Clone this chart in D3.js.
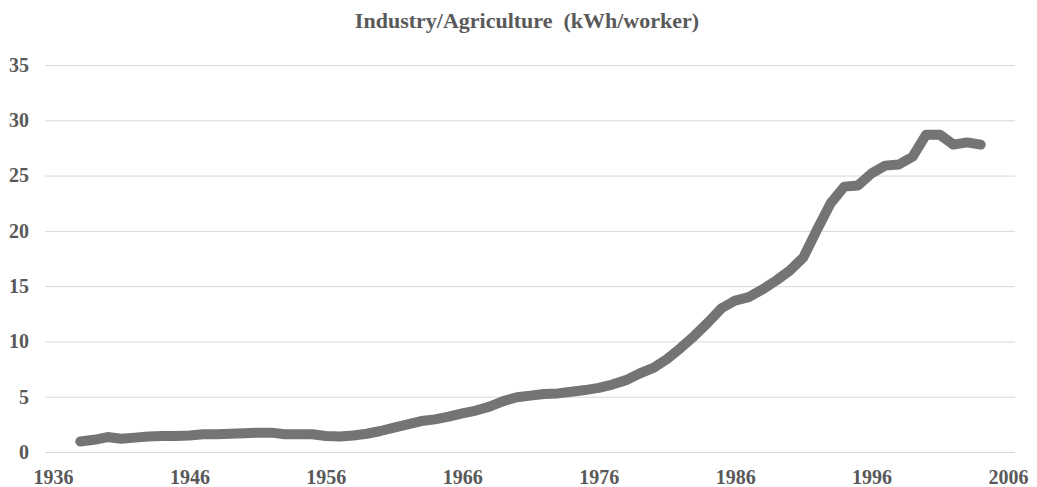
<!DOCTYPE html>
<html lang="en">
<head>
    <meta charset="utf-8">
    <script src="https://d3js.org/d3.v7.min.js"></script>
    <style>
        body { margin: 0; background: #fff; }
        text { font-family: "Liberation Serif", "Times New Roman", serif; }
    </style>
</head>
<body>

<div id="my_dataviz"></div>

<script>

const title = "Industry/Agriculture  (kWh/worker)";

const years = d3.range(1938, 2005);

const kwh = [
    0.95, 1.1, 1.35, 1.2, 1.3, 1.4, 1.45, 1.45, 1.5, 1.6,   // 1938-1947
    1.6, 1.65, 1.7, 1.75, 1.75, 1.6, 1.6, 1.6, 1.45, 1.4,    // 1948-1957
    1.5, 1.65, 1.9, 2.2, 2.5, 2.8, 2.95, 3.2, 3.5, 3.75,     // 1958-1967
    4.1, 4.6, 4.95, 5.1, 5.25, 5.3, 5.45, 5.6, 5.8, 6.1,     // 1968-1977
    6.5, 7.1, 7.6, 8.4, 9.4, 10.5, 11.7, 13.0, 13.7, 14.0,   // 1978-1987
    14.7, 15.5, 16.4, 17.6, 20.1, 22.5, 24.0, 24.1, 25.2, 25.9, // 1988-1997
    26.0, 26.7, 28.7, 28.7, 27.8, 28.0, 27.8                 // 1998-2004
];

const yTicks = [0, 5, 10, 15, 20, 25, 30, 35];
const xTicks = [1936, 1946, 1956, 1966, 1976, 1986, 1996, 2006];

const width = 1037;
const height = 487;

const svg = d3.select("#my_dataviz").append("svg")
    .attr("width", width)
    .attr("height", height);

const x = d3.scaleLinear().domain([1936, 2006]).range([53, 1008]);
const y = d3.scaleLinear().domain([0, 35]).range([452, 65]);

// title (keep the double space)
svg.append("text")
    .attr("x", 527)
    .attr("y", 28)
    .attr("text-anchor", "middle")
    .attr("fill", "#595959")
    .style("font-size", "22px")
    .style("font-weight", "bold")
    .style("white-space", "pre")
    .text(title);

// y grid + labels
const yAxis = svg.append("g")
    .attr("transform", "translate(45,0)")
    .call(d3.axisLeft(y).tickValues(yTicks).tickSize(-970).tickPadding(16));
yAxis.select(".domain").remove();
yAxis.selectAll(".tick line").attr("stroke", "#d9d9d9");
yAxis.selectAll(".tick text")
    .attr("fill", "#595959")
    .style("font-size", "20px")
    .style("font-weight", "bold");

// x labels
const xAxis = svg.append("g")
    .attr("transform", "translate(0,452)")
    .call(d3.axisBottom(x).tickValues(xTicks).tickFormat(d3.format("d")).tickSize(0).tickPadding(18));
xAxis.select(".domain").remove();
xAxis.selectAll(".tick text")
    .attr("fill", "#595959")
    .style("font-size", "20px")
    .style("font-weight", "bold");

// line
const line = d3.line()
    .x((d, i) => x(years[i]))
    .y(d => y(d));

svg.append("path")
    .datum(kwh)
    .attr("fill", "none")
    .attr("stroke", "#747474")
    .attr("stroke-width", 10)
    .attr("stroke-linejoin", "round")
    .attr("stroke-linecap", "round")
    .attr("d", line);

</script>
</body>
</html>
